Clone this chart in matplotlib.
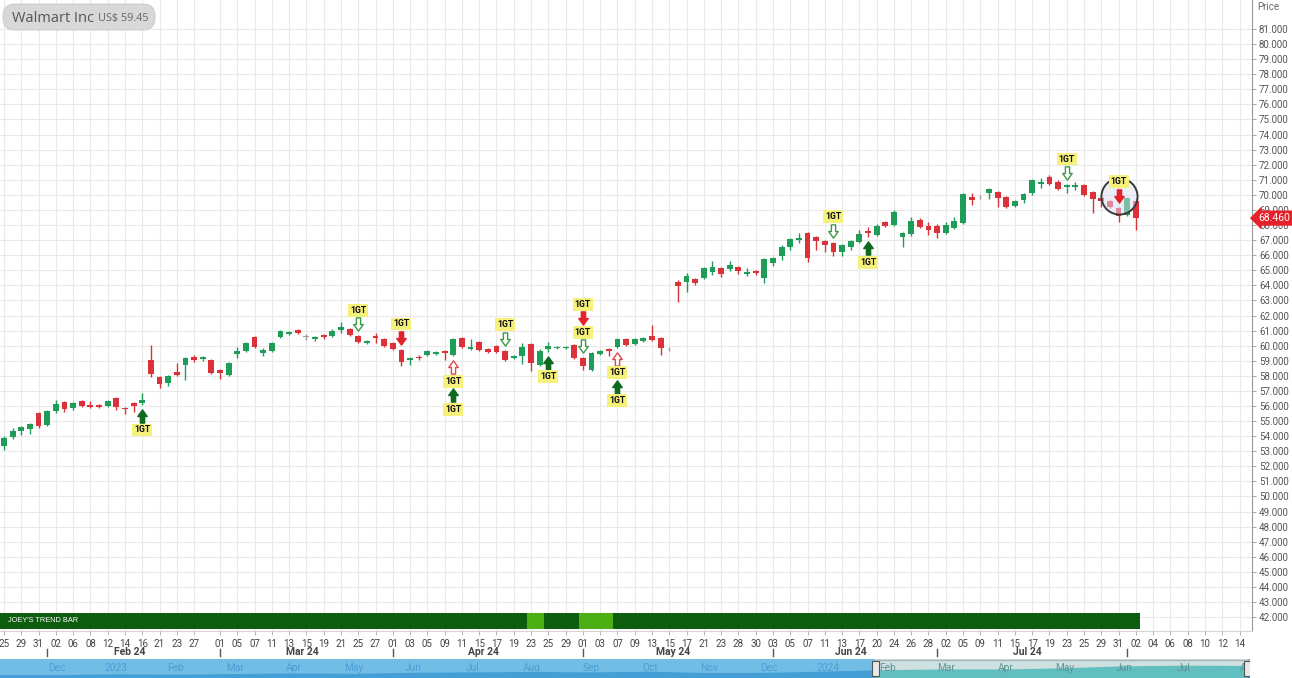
import numpy as np
import pandas as pd
import matplotlib
matplotlib.use("Agg")
import matplotlib.pyplot as plt
from matplotlib.path import Path
from matplotlib.transforms import offset_copy, blended_transform_factory, IdentityTransform
from matplotlib.patches import FancyBboxPatch, Rectangle

plt.rcParams['font.family'] = ['Roboto', 'DejaVu Sans']

# ---------------- data ----------------
title_name = "Walmart Inc"
title_price = "US$ 59.45"
start_date, end_date, future_end = "2024-01-25", "2024-08-02", "2024-08-20"
holidays = ["2024-02-19", "2024-03-29", "2024-05-27", "2024-06-19", "2024-07-04"]

opens = [53.37, 53.96, 54.36, 54.47, 55.52, 54.74, 55.67, 56.25, 55.89, 56.35,
         56.09, 56.04, 56.00, 56.51, 55.89, 56.22, 56.22, 59.05, 57.90, 57.50,
         58.27, 58.72, 59.23, 59.10, 59.05, 58.39, 58.06, 59.45, 59.67, 60.56,
         59.54, 59.67, 60.56, 60.76, 61.04, 60.60, 60.43, 60.71, 60.64, 61.04,
         61.09, 60.64, 60.16, 60.64, 60.42, 60.16, 59.72, 59.05, 59.27, 59.38,
         59.43, 59.65, 59.38, 60.49, 59.76, 60.26, 59.80, 59.98, 59.65, 59.16,
         59.32, 60.09, 58.72, 59.80, 59.82, 59.84, 60.04, 59.16, 58.39, 59.45,
         59.76, 59.93, 60.42, 60.11, 60.33, 60.64, 60.49, 59.76, 64.24, 64.24,
         64.40, 64.47, 64.91, 65.13, 65.08, 65.20, 64.75, 64.95, 64.47, 65.46,
         65.95, 66.52, 67.00, 67.45, 67.19, 66.94, 66.83, 66.23, 66.52, 66.90,
         67.60, 67.34, 68.22, 68.00, 67.23, 67.41, 68.33, 67.94, 67.94, 67.45,
         67.82, 68.16, 69.88, 69.84, 70.10, 70.21, 69.88, 69.26, 69.66, 70.10,
         70.72, 71.21, 70.87, 70.50, 70.50, 70.66, 70.21, 69.81, 69.59, 69.15,
         68.67, 69.59]
closes = [53.86, 54.36, 54.63, 54.81, 54.67, 55.69, 56.11, 55.78, 56.22, 56.02,
          55.93, 55.93, 56.35, 55.96, 55.78, 56.02, 56.40, 58.10, 57.44, 58.01,
          58.06, 59.16, 59.05, 59.23, 58.17, 58.21, 58.87, 59.65, 60.16, 59.93,
          59.72, 60.16, 60.97, 60.89, 60.82, 60.60, 60.56, 60.60, 61.00, 61.22,
          60.70, 60.26, 60.30, 60.49, 59.98, 59.76, 58.94, 59.20, 59.16, 59.65,
          59.58, 59.54, 60.42, 59.89, 59.93, 59.72, 59.60, 59.60, 59.05, 59.32,
          59.89, 58.83, 59.67, 59.98, 59.93, 59.91, 59.16, 58.65, 59.49, 59.65,
          59.67, 60.42, 60.04, 60.42, 60.49, 60.38, 59.82, 59.76, 63.98, 64.62,
          64.14, 65.13, 65.24, 64.75, 65.35, 64.97, 64.91, 64.80, 65.73, 65.80,
          66.57, 67.07, 67.14, 65.80, 66.96, 66.68, 66.23, 66.68, 66.96, 67.39,
          67.45, 67.96, 67.94, 68.89, 67.45, 68.27, 67.85, 67.67, 67.45, 68.00,
          68.27, 70.04, 69.66, 69.84, 70.37, 69.77, 69.22, 69.61, 70.04, 70.99,
          70.87, 70.72, 70.37, 70.66, 70.66, 69.99, 69.71, 69.59, 69.22, 68.60,
          69.77, 68.46]
highs = [54.01, 54.54, 54.69, 54.90, 55.60, 55.75, 56.40, 56.30, 56.29, 56.42,
         56.35, 56.10, 56.42, 56.62, 55.95, 56.28, 56.88, 60.04, 57.98, 58.08,
         58.83, 59.27, 59.36, 59.30, 59.10, 58.45, 58.95, 59.93, 60.25, 60.65,
         59.83, 60.25, 61.05, 60.98, 61.10, 60.75, 60.62, 60.78, 61.08, 61.57,
         61.15, 60.70, 60.38, 60.82, 60.50, 60.22, 59.78, 59.28, 59.35, 59.72,
         59.65, 59.72, 60.50, 60.56, 60.42, 60.33, 59.86, 60.05, 59.72, 59.40,
         60.16, 60.16, 59.75, 60.26, 60.00, 59.98, 60.10, 59.22, 59.55, 59.72,
         59.82, 60.50, 60.50, 60.48, 60.56, 61.37, 60.55, 59.90, 64.35, 64.84,
         64.49, 65.20, 65.62, 65.20, 65.62, 65.28, 65.15, 65.05, 65.80, 65.90,
         66.65, 67.15, 67.45, 67.56, 67.25, 67.00, 66.90, 66.75, 67.03, 67.70,
         67.87, 68.05, 68.30, 69.00, 67.56, 68.56, 68.45, 68.17, 68.07, 68.20,
         68.56, 70.10, 70.10, 69.98, 70.45, 70.28, 69.95, 69.68, 70.12, 71.05,
         71.14, 71.32, 70.99, 70.72, 70.85, 70.72, 70.28, 69.88, 69.66, 69.22,
         69.85, 69.77]
lows = [53.08, 53.81, 54.08, 54.14, 54.55, 54.67, 55.55, 55.62, 55.73, 55.95,
        55.88, 55.88, 55.95, 55.73, 55.47, 55.62, 56.07, 57.95, 57.17, 57.33,
        57.99, 57.72, 58.94, 59.00, 58.10, 57.79, 57.98, 59.16, 59.60, 59.85,
        59.32, 59.60, 60.50, 60.68, 60.75, 60.40, 60.30, 60.45, 60.55, 60.86,
        60.65, 60.18, 60.08, 60.16, 59.90, 59.70, 58.65, 58.72, 59.08, 59.30,
        59.36, 59.05, 59.30, 59.82, 59.70, 59.65, 59.54, 59.54, 58.98, 59.10,
        58.78, 58.32, 58.65, 59.60, 59.76, 59.78, 59.10, 58.39, 58.30, 59.38,
        59.32, 59.86, 59.98, 60.05, 60.27, 60.30, 59.38, 59.62, 62.92, 63.58,
        64.05, 64.40, 64.69, 64.55, 64.98, 64.75, 64.62, 64.72, 64.14, 65.30,
        65.69, 66.34, 66.79, 65.57, 66.34, 66.20, 65.95, 65.95, 66.34, 66.83,
        67.20, 67.27, 67.85, 67.92, 66.57, 67.30, 67.78, 67.34, 67.12, 67.38,
        67.75, 68.10, 69.33, 69.70, 69.71, 69.22, 69.15, 69.20, 69.44, 70.00,
        70.44, 70.65, 70.30, 70.10, 70.33, 69.92, 68.82, 69.22, 69.10, 68.22,
        68.60, 67.67]

# trend bar: days with the light (neutral) state
trend_light_days = ["2024-04-23", "2024-04-24", "2024-05-01", "2024-05-02",
                    "2024-05-03", "2024-05-06"]

# 1GT signals: date, side, arrow kinds (nearest the candle first)
signals = [
    ("2024-02-16", "below", ["up_fill"]),
    ("2024-03-25", "above", ["down_hollow"]),
    ("2024-04-02", "above", ["down_fill"]),
    ("2024-04-10", "below", ["up_hollow", "up_fill"]),
    ("2024-04-18", "above", ["down_hollow"]),
    ("2024-04-25", "below", ["up_fill"]),
    ("2024-05-01", "above", ["down_hollow", "down_fill"]),
    ("2024-05-07", "below", ["up_hollow", "up_fill"]),
    ("2024-06-12", "above", ["down_hollow"]),
    ("2024-06-18", "below", ["up_fill"]),
    ("2024-07-23", "above", ["down_hollow"]),
    ("2024-07-31", "above", ["down_fill"]),
]
highlight_day = "2024-07-31"
signal_text = "1GT"

tick_days = {
    "2024-01": [25, 29, 31],
    "2024-02": [2, 6, 8, 12, 14, 16, 21, 23, 27],
    "2024-03": [1, 5, 7, 11, 13, 15, 19, 21, 25, 27],
    "2024-04": [1, 3, 5, 9, 11, 15, 17, 19, 23, 25, 29],
    "2024-05": [1, 3, 7, 9, 13, 15, 17, 21, 23, 28, 30],
    "2024-06": [3, 5, 7, 11, 13, 17, 20, 24, 26, 28],
    "2024-07": [2, 5, 9, 11, 15, 17, 19, 23, 25, 29, 31],
    "2024-08": [2, 4, 6, 8, 10, 12, 14],
}
month_labels = {"2024-02": "Feb 24", "2024-03": "Mar 24", "2024-04": "Apr 24",
                "2024-05": "May 24", "2024-06": "Jun 24", "2024-07": "Jul 24"}
month_marks = ["2024-02", "2024-03", "2024-04", "2024-05", "2024-06", "2024-07", "2024-08"]

price_ticks = list(range(42, 82))

nav_labels = ["Dec", "2023", "Feb", "Mar", "Apr", "May", "Jun", "Jul", "Aug", "Sep",
              "Oct", "Nov", "Dec", "2024", "Feb", "Mar", "Apr", "May", "Jun", "Jul", "A"]
nav_values = [46.5, 48.5, 47.5, 49.0, 50.5, 49.5, 52.0, 53.0, 54.0, 53.0, 54.5,
              51.5, 52.0, 55.0, 58.5, 60.0, 60.0, 63.0, 67.5, 69.0, 68.5]
nav_sel_start, nav_sel_end = 13.8, 20.08

# ---------------- styling ----------------
GREEN = "#1f9c58"
RED = "#db3139"
GRAY = "#9a9a9a"
GRID = "#e9e9e9"

W, H = 1292, 678
fig = plt.figure(figsize=(W / 100, H / 100), dpi=100)
fig.patch.set_facecolor("white")

X0_PX, PX_PER_DAY = 4.0, 8.64
AX_RIGHT_PX, AX_BOTTOM_PX = 1252, 631
xlim = ((0 - X0_PX) / PX_PER_DAY, (AX_RIGHT_PX - X0_PX) / PX_PER_DAY)
ax = fig.add_axes([0, 1 - AX_BOTTOM_PX / H, AX_RIGHT_PX / W, AX_BOTTOM_PX / H])
ax.set_facecolor("white")
ax.set_xlim(*xlim)
ax.set_ylim(81 - (AX_BOTTOM_PX - 29) / 15.08, 81 + 29 / 15.08)

# dates -> positions
trading = pd.bdate_range(start_date, end_date, freq="C", holidays=holidays)
future = pd.date_range(pd.Timestamp(end_date) + pd.Timedelta(days=1), future_end)
all_dates = list(trading) + list(future)
pos = {d.strftime("%Y-%m-%d"): i for i, d in enumerate(all_dates)}

o = np.array(opens); c = np.array(closes); hi = np.array(highs); lo = np.array(lows)
n = len(o)
x = np.arange(n)
colors = np.where(c > o, GREEN, np.where(c < o, RED, GRAY))

# grid
tick_pos, tick_lab = [], []
for key, days in tick_days.items():
    for d in days:
        tick_pos.append(pos[f"{key}-{d:02d}"])
        tick_lab.append(f"{d:02d}")
for tp in tick_pos:
    ax.axvline(tp, color=GRID, lw=0.8, zorder=0)
for pt in price_ticks:
    ax.axhline(pt, color=GRID, lw=0.8, zorder=0)

# candles
ax.vlines(x, lo, hi, colors=colors, lw=1.0, zorder=3)
body_bottom = np.minimum(o, c)
body_h = np.maximum(np.abs(c - o), 0.05)
ax.bar(x, body_h, bottom=body_bottom, width=0.68, color=colors, lw=0, zorder=4)

# signals
up_path = Path([(-0.16, -0.5), (0.16, -0.5), (0.16, 0.0), (0.36, 0.0), (0.0, 0.5),
                (-0.36, 0.0), (-0.16, 0.0), (-0.16, -0.5)],
               [Path.MOVETO] + [Path.LINETO] * 6 + [Path.CLOSEPOLY])
down_path = Path(up_path.vertices * np.array([1, -1]), up_path.codes)
arrow_style = {
    "up_fill": (up_path, "#0f6a1e", "#0f6a1e"),
    "down_fill": (down_path, "#e3232c", "#e3232c"),
    "down_hollow": (down_path, "white", "#3a9a48"),
    "up_hollow": (up_path, "white", "#e0464d"),
}
for day, side, kinds in signals:
    i = pos[day]
    base = hi[i] if side == "above" else lo[i]
    sgn = 1 if side == "above" else -1
    for k, kind in enumerate(kinds):
        dy_arrow = sgn * (11 + 28 * k)
        dy_label = sgn * (25 + 28 * k)
        tr_a = offset_copy(ax.transData, fig=fig, x=0, y=dy_arrow, units="dots")
        tr_l = offset_copy(ax.transData, fig=fig, x=0, y=dy_label, units="dots")
        if day == highlight_day and k == 0:
            ax.plot([i], [base], marker="o", ms=26, mfc=(0.86, 0.88, 0.97, 0.5),
                    mec="#3a3a3a", mew=1.4, transform=tr_a, zorder=5, clip_on=False)
        path, fc, ec = arrow_style[kind]
        ax.plot([i], [base], marker=path, ms=9.5, mfc=fc, mec=ec, mew=1.0,
                transform=tr_a, zorder=6, clip_on=False, linestyle="none")
        ax.text(i, base, signal_text, transform=tr_l, ha="center", va="center",
                fontsize=6.3, fontweight="bold", color="#111", zorder=7,
                bbox=dict(boxstyle="square,pad=0.22", fc="#f6f17a", ec="none"))

# axes styling
for s in ["top", "left"]:
    ax.spines[s].set_visible(False)
ax.spines["right"].set_color("#9a9a9a")
ax.spines["right"].set_linewidth(0.8)
ax.spines["bottom"].set_color("#d4d4d4")
ax.spines["bottom"].set_linewidth(0.8)
ax.yaxis.tick_right()
ax.set_yticks(price_ticks)
ax.set_yticklabels([f"{v:.3f}" for v in price_ticks])
ax.tick_params(axis="y", length=3, width=0.6, color="#999", pad=2,
               labelsize=7, labelcolor="#555")
ax.set_xticks(tick_pos)
ax.set_xticklabels(tick_lab)
ax.tick_params(axis="x", length=3, width=0.6, color="#aaa", pad=3,
               labelsize=7, labelcolor="#444")

# month labels and separators
bt = blended_transform_factory(ax.transData, ax.transAxes)
tdates = pd.Series(range(len(trading)), index=trading)
for key, lab in month_labels.items():
    idxs = tdates[tdates.index.strftime("%Y-%m") == key].values
    ax.text(idxs.mean(), -0.034, lab, transform=bt, ha="center", va="center",
            fontsize=7.5, fontweight="bold", color="#444")
for key in month_marks:
    idxs = tdates[tdates.index.strftime("%Y-%m") == key].values
    ax.plot([idxs[0], idxs[0]], [-0.029, -0.040], transform=bt, color="#555",
            lw=1.0, clip_on=False)

# current price tag
ax.text(1.005, c[-1], f"{c[-1]:.3f}", transform=blended_transform_factory(ax.transAxes, ax.transData),
        ha="left", va="center", fontsize=7.5, color="white", zorder=10, clip_on=False,
        bbox=dict(boxstyle="larrow,pad=0.25", fc="#e8202a", ec="none"))

fig.text(1257 / W, 1 - 7 / H, "Price", fontsize=7, color="#666", va="center", ha="left")

# trend bar
ax_t = fig.add_axes([0, 1 - 629 / H, AX_RIGHT_PX / W, 16 / H])
ax_t.set_xlim(*xlim)
ax_t.set_ylim(0, 1)
light_idx = {pos[d] for d in trend_light_days}
tcolors = ["#4caf14" if i in light_idx else "#0e5c0e" for i in range(n)]
ax_t.bar(x, 1, width=1.0, color=tcolors, lw=0, align="center")
ax_t.axis("off")
ax_t.text(8 / AX_RIGHT_PX, 0.5, "JOEY'S TREND BAR", transform=ax_t.transAxes,
          fontsize=5.3, color="white", va="center", ha="left",
          family=["Liberation Sans", "DejaVu Sans"])

# navigator
NAV_W = 1250
ax_n = fig.add_axes([0, 0, NAV_W / W, 19 / H])
nav_x0, nav_step = 57.0, 59.3
ax_n.set_xlim(-nav_x0 / nav_step, (NAV_W - nav_x0) / nav_step)
ax_n.set_ylim(0, 1)
ax_n.axis("off")
ax_n.axvspan(-5, 30, color="#72bde6", lw=0)
nk = np.arange(len(nav_values))
nv = np.array(nav_values)
lvl = 0.12 + (nv - 45) / 25 * 0.55
xx = np.concatenate([[-1.5], nk, [21.5]])
ll = np.concatenate([[lvl[0]], lvl, [lvl[-1]]])
ax_n.fill_between(xx, 0, ll, color="#449fd6", lw=0)
ax_n.axvspan(nav_sel_start, nav_sel_end, ymin=0, ymax=1, color="#cfe0e0", lw=0)
teal = ax_n.fill_between(xx, 0, ll, color="#62bfc0", lw=0)
teal.set_clip_path(Rectangle((nav_sel_start, 0), nav_sel_end - nav_sel_start, 1,
                             transform=ax_n.transData))
ax_n.plot([nav_sel_start, nav_sel_end], [0.97, 0.97], color="#a9b5b5", lw=1.0)
for k, lab in enumerate(nav_labels):
    inside = nav_sel_start <= k <= nav_sel_end
    ax_n.text(k, 0.55, lab, ha="center", va="center", fontsize=7.3,
              color="#5d9298" if inside else "#4b9fd3")
for hx in (nav_sel_start, nav_sel_end):
    ax_n.add_patch(Rectangle((hx - 0.06, 0.1), 0.12, 0.8, fc="#e8e8e8", ec="#555",
                             lw=0.8, zorder=5))

# title box
fig.add_artist(FancyBboxPatch((3, H - 30), 152, 26, boxstyle="round,pad=0,rounding_size=12",
                              transform=IdentityTransform(), fc="#d8d8d8", ec="#c8c8c8", lw=0.6))
t1 = fig.text(12 / W, 1 - 18 / H, title_name, fontsize=10.5, color="#555", va="center",
              ha="left", family=["Open Sans", "DejaVu Sans"])
fig.canvas.draw()
bb = t1.get_window_extent()
fig.text((bb.x1 + 4) / W, 1 - 18 / H, title_price, fontsize=7.8, color="#666",
         va="center", ha="left", family=["Open Sans", "DejaVu Sans"])

fig.savefig("out.png", dpi=100, facecolor="white")
